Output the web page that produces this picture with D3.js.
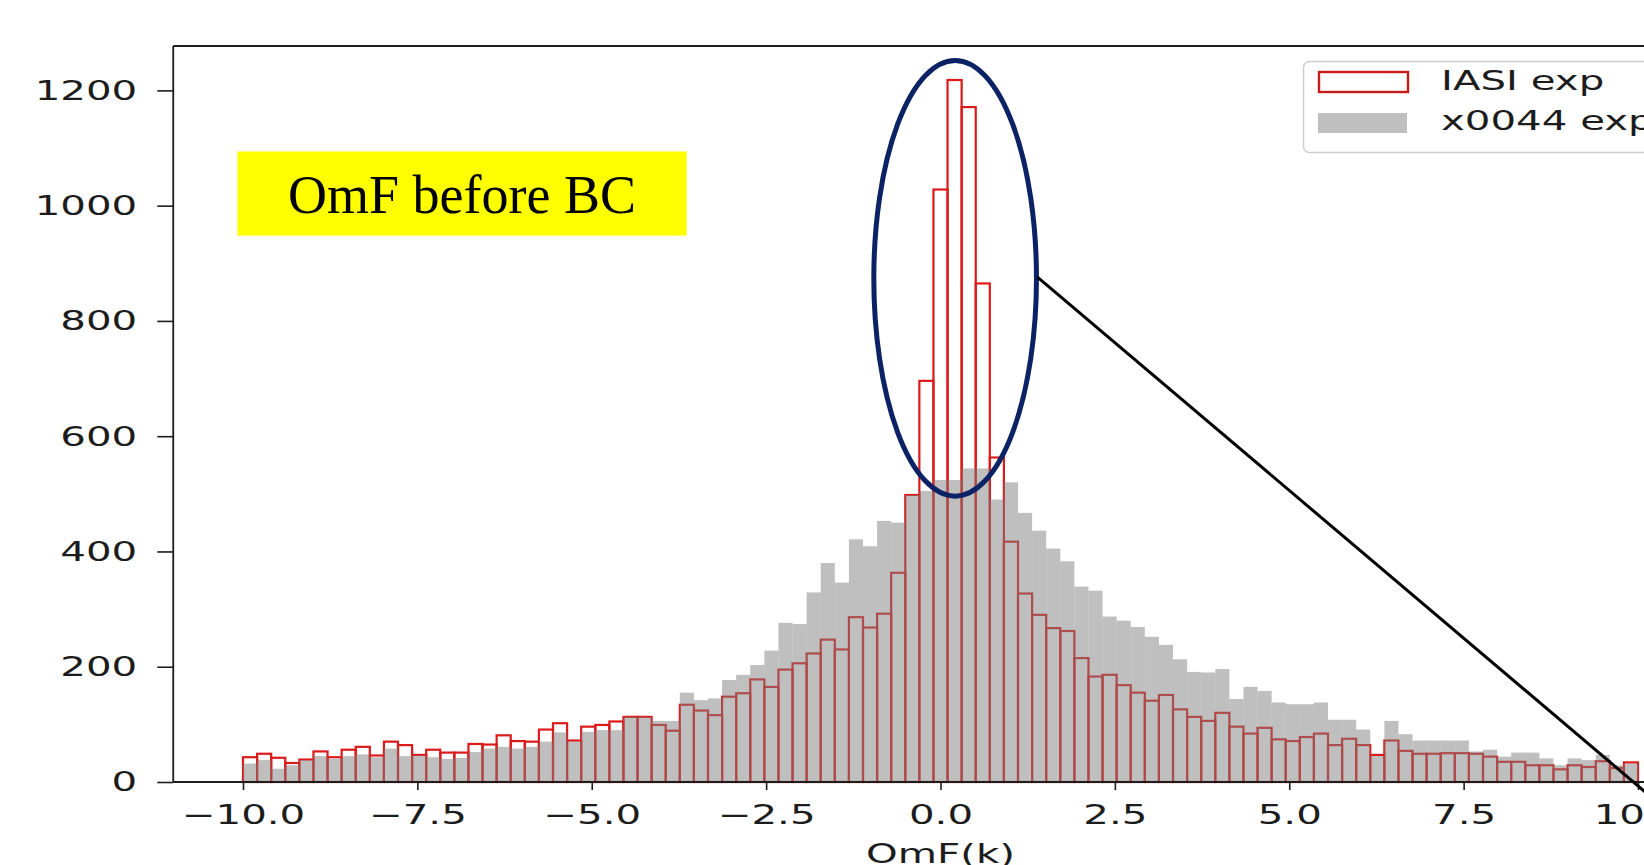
<!DOCTYPE html>
<html>
<head>
<meta charset="utf-8">
<script src="https://cdn.jsdelivr.net/npm/d3@7"></script>
<style>
html, body { margin: 0; padding: 0; background: #fff; overflow: hidden; }
svg { display: block; }
</style>
</head>
<body>
<svg id="chart" width="1644" height="865"></svg>
<script>
// counts per bin (99 bins between -10 and 10)
const iasiCounts = [
  43, 49, 42, 33, 39, 53, 43, 56, 61, 46,
  70, 64, 47, 56, 51, 51, 66, 65, 81, 71,
  70, 91, 102, 72, 96, 99, 105, 113, 113, 99,
  89, 134, 124, 116, 148, 154, 178, 165, 195, 206,
  223, 247, 230, 286, 268, 292, 363, 498, 696, 1028,
  1218, 1171, 865, 563, 417, 327, 290, 267, 262, 215,
  183, 186, 168, 155, 141, 151, 126, 113, 106, 120,
  96, 84, 94, 74, 71, 78, 84, 64, 75, 64,
  47, 72, 54, 49, 49, 50, 50, 49, 44, 35,
  35, 29, 29, 22, 29, 26, 36, 24, 34
];
const x0044Counts = [
  32, 38, 23, 29, 38, 45, 40, 45, 48, 43,
  58, 45, 46, 43, 40, 42, 52, 58, 61, 58,
  61, 70, 86, 70, 87, 90, 90, 113, 113, 106,
  106, 155, 142, 145, 177, 186, 203, 228, 276, 274,
  329, 380, 346, 421, 409, 453, 450, 498, 505, 524,
  524, 544, 544, 490, 520, 467, 436, 405, 383, 339,
  332, 287, 280, 269, 252, 238, 213, 191, 190, 196,
  144, 165, 158, 138, 135, 135, 138, 108, 108, 91,
  45, 106, 83, 72, 72, 72, 72, 53, 56, 44,
  51, 51, 41, 29, 41, 38, 47, 29, 32
];
const xTicks = [-10, -7.5, -5, -2.5, 0, 2.5, 5, 7.5, 10];
const yTicks = [0, 200, 400, 600, 800, 1000, 1200];
const seriesNames = ["IASI exp", "x0044 exp"];
const boxLabel = "OmF before BC";
const xLabel = "OmF(k)";

const nBins = iasiCounts.length;
const binEdges = d3.range(nBins + 1).map(i => -10 + i * 20 / nBins);

const SX = 1.55; // the original picture is stretched sideways
const font = "'DejaVu Sans', sans-serif";
const ink = "#1c1c1c";
const red = "#dc1a1a";

const svg = d3.select("#chart");
svg.append("rect").attr("width", 1644).attr("height", 865).attr("fill", "#fff");

const x = d3.scaleLinear().domain([-10, 10]).range([243, 1638]);
const y = d3.scaleLinear().domain([0, 1277]).range([782, 46]);

// red outlined bars first, grey translucent on top
svg.append("g")
  .selectAll("rect")
  .data(iasiCounts)
  .join("rect")
  .attr("x", (d, i) => x(binEdges[i]))
  .attr("width", (d, i) => x(binEdges[i + 1]) - x(binEdges[i]))
  .attr("y", d => y(d))
  .attr("height", d => y(0) - y(d))
  .attr("fill", "none")
  .attr("stroke", red)
  .attr("stroke-width", 2.2);

svg.append("g")
  .selectAll("rect")
  .data(x0044Counts)
  .join("rect")
  .attr("x", (d, i) => x(binEdges[i]))
  .attr("width", (d, i) => x(binEdges[i + 1]) - x(binEdges[i]))
  .attr("y", d => y(d))
  .attr("height", d => y(0) - y(d))
  .attr("fill", "#808080")
  .attr("fill-opacity", 0.5);

// axes
const left = x(-11);
const gy = svg.append("g")
  .attr("transform", `translate(${left},0)`)
  .call(d3.axisLeft(y).tickValues(yTicks).tickSize(16).tickSizeOuter(0).tickFormat(d3.format("d")));
gy.select(".domain").remove();
gy.selectAll("line").attr("stroke", ink).attr("stroke-width", 1.6);
gy.selectAll("text")
  .attr("x", 0)
  .attr("dy", "0.34em")
  .attr("transform", `translate(-36,0) scale(${SX},1)`)
  .attr("font-family", font).attr("font-size", 26).attr("fill", ink);

const gx = svg.append("g")
  .attr("transform", `translate(0,${y(0)})`)
  .call(d3.axisBottom(x).tickValues(xTicks).tickSize(8).tickPadding(16).tickSizeOuter(0).tickFormat(d3.format(".1f")));
gx.select(".domain").remove();
gx.selectAll("line").attr("stroke", ink).attr("stroke-width", 1.6);
gx.selectAll("text")
  .attr("transform", `scale(${SX},1)`)
  .attr("font-family", font).attr("font-size", 26).attr("fill", ink);

// spines
const spine = svg.append("g").attr("stroke", ink).attr("stroke-width", 1.8);
spine.append("line").attr("x1", left).attr("x2", left).attr("y1", y.range()[1]).attr("y2", y(0));
spine.append("line").attr("x1", left).attr("x2", 1644).attr("y1", y(0)).attr("y2", y(0));
spine.append("line").attr("x1", left).attr("x2", 1644).attr("y1", y.range()[1]).attr("y2", y.range()[1]);

svg.append("text")
  .attr("transform", `translate(${x(0)},863) scale(${SX},1)`)
  .attr("text-anchor", "middle")
  .attr("font-family", font).attr("font-size", 26).attr("fill", ink)
  .text(xLabel);

// legend
const lg = svg.append("g").attr("transform", "translate(1303,61)");
lg.append("rect").attr("x", 0.5).attr("y", 0.5).attr("width", 420).attr("height", 91)
  .attr("rx", 6).attr("fill", "#fff").attr("fill-opacity", 0.85)
  .attr("stroke", "#cfcfcf").attr("stroke-width", 1.5);
lg.append("rect").attr("x", 16).attr("y", 11).attr("width", 89).attr("height", 20)
  .attr("fill", "#fff").attr("stroke", "#c81c1c").attr("stroke-width", 2.4);
lg.append("rect").attr("x", 15).attr("y", 52).attr("width", 89).attr("height", 20)
  .attr("fill", "#808080").attr("fill-opacity", 0.5);
lg.selectAll("text.lab")
  .data(seriesNames)
  .join("text")
  .attr("class", "lab")
  .attr("transform", (d, i) => `translate(138,${29 + i * 40}) scale(${SX},1)`)
  .attr("font-family", font).attr("font-size", 26).attr("fill", ink)
  .text(d => d);

// annotations, placed in data units
const box = { x0: -10.08, x1: -3.64, top: 1094, bottom: 948, baseline: 987 };
svg.append("rect")
  .attr("x", x(box.x0)).attr("y", y(box.top))
  .attr("width", x(box.x1) - x(box.x0)).attr("height", y(box.bottom) - y(box.top))
  .attr("fill", "#ffff00");
svg.append("text")
  .attr("x", (x(box.x0) + x(box.x1)) / 2).attr("y", y(box.baseline))
  .attr("text-anchor", "middle")
  .attr("font-family", "'Liberation Serif', 'Times New Roman', serif")
  .attr("font-size", 54).attr("fill", "#000")
  .text(boxLabel);

const oval = { cx: 0.21, cy: 874, rx: 1.166, ry: 378 };
svg.append("ellipse")
  .attr("cx", x(oval.cx)).attr("cy", y(oval.cy))
  .attr("rx", x(oval.cx + oval.rx) - x(oval.cx)).attr("ry", y(0) - y(oval.ry))
  .attr("fill", "none").attr("stroke", "#0b2265").attr("stroke-width", 5);

const pointer = [[1.39, 876], [10.12, -19]];
svg.append("line")
  .attr("x1", x(pointer[0][0])).attr("y1", y(pointer[0][1]))
  .attr("x2", x(pointer[1][0])).attr("y2", y(pointer[1][1]))
  .attr("stroke", "#000").attr("stroke-width", 3);
</script>
</body>
</html>
